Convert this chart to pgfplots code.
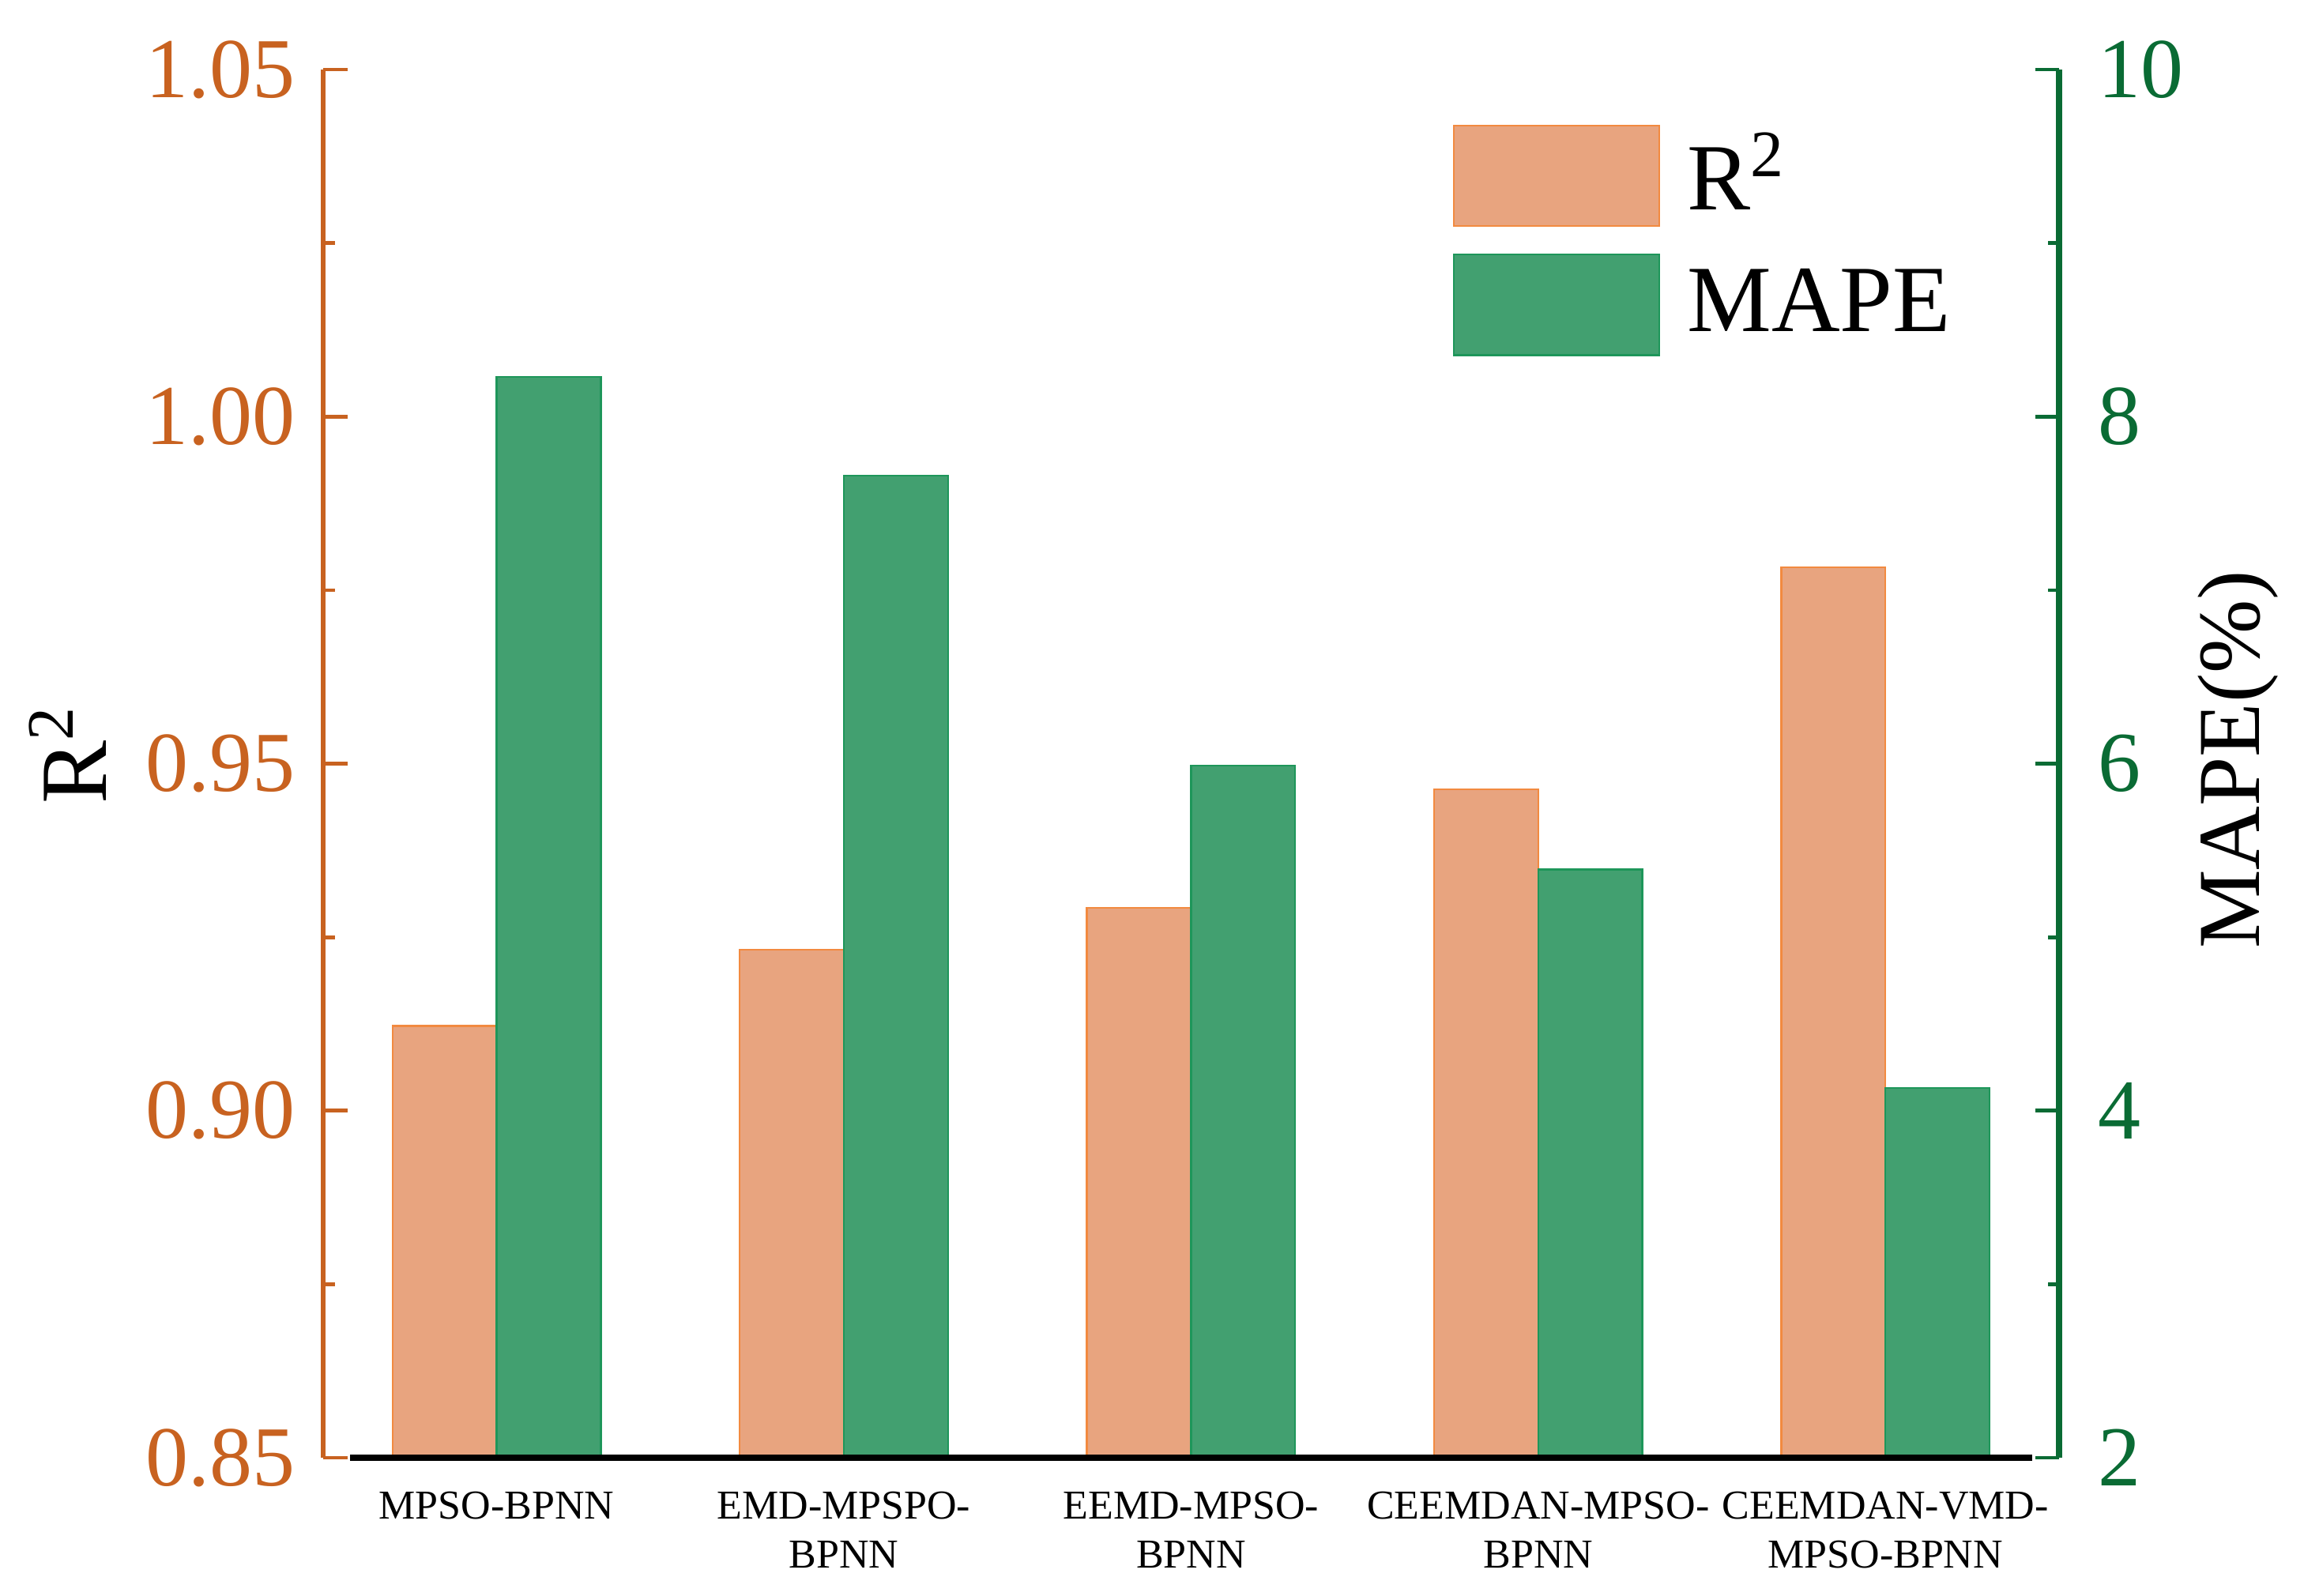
\documentclass[border=0pt]{standalone}
\usepackage{pgfplots}
\pgfplotsset{compat=1.18}
\usepackage{fontspec}
\setmainfont{Liberation Serif}
\definecolor{rcol}{RGB}{200,98,32}
\definecolor{gcol}{RGB}{10,107,52}
\definecolor{ofill}{RGB}{232,164,127}
\definecolor{odraw}{RGB}{242,138,64}
\definecolor{gfill}{RGB}{66,160,112}
\definecolor{gdraw}{RGB}{30,150,90}
\pgfplotsset{boxlegend/.style={legend image code/.code={\draw[##1] (0pt,-7.95pt) rectangle (32.5pt,7.95pt);}}}
\begin{document}
\begin{tikzpicture}
\begin{axis}[
  name=ax1,
  scale only axis, width=274.6pt, height=219.6pt,
  xmin=-0.5, xmax=4.5, ymin=0.85, ymax=1.05,
  axis x line*=bottom, axis y line*=left,
  x axis line style={draw=none},
  xtick={0,1,2,3,4},
  xticklabels={MPSO-BPNN, EMD-MPSPO-\\BPNN, EEMD-MPSO-\\BPNN, CEEMDAN-MPSO-\\BPNN, CEEMDAN-VMD-\\MPSO-BPNN},
  x tick style={draw=none},
  xticklabel style={font=\fontsize{6.5}{7.7}\selectfont, align=center, anchor=north, inner sep=0pt, yshift=-5.2pt},
  ytick={0.85,0.90,0.95,1.00,1.05}, minor y tick num=1,
  y axis line style={color=rcol, line width=0.8pt},
  y tick style={color=rcol, line width=0.6pt},
  tick align=inside,
  major tick length=3.9pt, minor tick length=1.9pt,
  yticklabel style={color=rcol, font=\fontsize{13.5}{16}\selectfont, inner sep=0pt, xshift=-4.2pt,
    /pgf/number format/.cd, fixed, fixed zerofill, precision=2, assume math mode=true},
  ylabel={R\textsuperscript{2}},
  ylabel style={at={(axis description cs:-0.147,0.507)}, anchor=center, font=\fontsize{15}{18}\selectfont, color=black},
]
\addplot[ybar, bar width=0.3, bar shift=-0.15, fill=ofill, draw=odraw, line width=0.3pt]
  coordinates {(0,0.9122) (1,0.9232) (2,0.9292) (3,0.9463) (4,0.9783)};
\end{axis}
\begin{axis}[
  name=ax2,
  scale only axis, width=274.6pt, height=219.6pt,
  xmin=-0.5, xmax=4.5, ymin=2, ymax=10,
  axis x line=none, axis y line*=right,
  ytick={2,4,6,8,10}, minor y tick num=1,
  y axis line style={color=gcol, line width=0.9pt},
  y tick style={color=gcol, line width=0.6pt},
  tick align=inside,
  major tick length=3.8pt, minor tick length=1.8pt,
  yticklabel style={color=gcol, font=\fontsize{13.5}{16}\selectfont, inner sep=0pt, xshift=6pt,
    /pgf/number format/assume math mode=true},
  ylabel={MAPE(\%)},
  ylabel style={at={(axis description cs:1.103,0.503)}, anchor=center, font=\fontsize{14}{17}\selectfont, color=black},
  clip mode=individual,
  legend style={at={(axis description cs:0.650,0.9613)}, anchor=north west, draw=none, fill=none,
    font=\fontsize{15}{18}\selectfont, inner sep=0pt, row sep=4.2pt, column sep=4.3pt,
    nodes={inner sep=0pt}},
  legend cell align=left,
]
\addlegendimage{fill=ofill, draw=odraw, line width=0.3pt, boxlegend}
\addlegendentry{R\textsuperscript{2}}
\addplot[ybar, bar width=0.3, bar shift=0.15, fill=gfill, draw=gdraw, line width=0.3pt, boxlegend]
  coordinates {(0,8.23) (1,7.66) (2,5.99) (3,5.39) (4,4.13)};
\addlegendentry{MAPE}
\draw[black, line width=0.9pt] ([xshift=4.3pt]rel axis cs:0,0) -- ([xshift=-4.3pt]rel axis cs:1,0);
\end{axis}
\pgfresetboundingbox
\path ([shift={(-51.1pt,-21.8pt)}]ax1.south west) rectangle ([shift={(38.75pt,11pt)}]ax1.north east);
\end{tikzpicture}
\end{document}
